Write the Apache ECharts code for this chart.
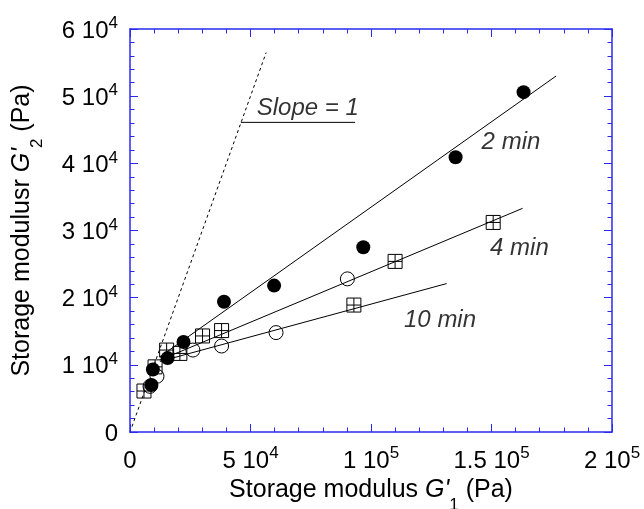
<!DOCTYPE html>
<html>
<head>
<meta charset="utf-8">
<script src="https://cdn.jsdelivr.net/npm/echarts@6/dist/echarts.min.js"></script>
<style>
  html, body { margin: 0; padding: 0; background: #fff; }
  #chart { width: 644px; height: 509px; }
</style>
</head>
<body>
<div id="chart"></div>
<script>
// axis ticks
const xTicks = [0, 50000, 100000, 150000, 200000];
const xTickLabels = ['0', '5 10^4', '1 10^5', '1.5 10^5', '2 10^5'];
const yTicks = [0, 10000, 20000, 30000, 40000, 50000, 60000];
const yTickLabels = ['0', '1 10^4', '2 10^4', '3 10^4', '4 10^4', '5 10^4', '6 10^4'];

// measured points (Pa)
const filledX = [8900, 9500, 15600, 22200, 39000, 59800, 96800, 135100, 163300];
const filledY = [7000, 9300, 11000, 13400, 19400, 21800, 27500, 40900, 50600];
const openX = [8300, 11200, 26100, 38000, 60600, 90200];
const openY = [6800, 8300, 12200, 12800, 14800, 22800];
const squareX = [5800, 10400, 15200, 20700, 30100, 38000, 92900, 110000, 150700];
const squareY = [6100, 9700, 12200, 11700, 14300, 15100, 18900, 25400, 31200];

// fitted lines
const slopeOne = [[800, 800], [56500, 56500]];
const slopeUnderline = [[46000, 46100], [93400, 46100]];
const line2min = [[12400, 11200], [176800, 53000]];
const line4min = [[12400, 10700], [162900, 33300]];
const line10min = [[12400, 10500], [131400, 22100]];

// annotations
const noteText = ['Slope = 1', '2 min', '4 min', '10 min'];
const noteX = [52600, 145900, 149400, 113700];
const noteY = [48200, 43100, 27400, 16700];

const FONT = '"Liberation Sans", Arial, Helvetica, sans-serif';
const BLUE = '#2a2af0';

const zip = (xs, ys) => xs.map((x, i) => [x, ys[i]]);
const richTick = (s) => {
    const p = s.split('^');
    return p.length > 1 ? '{n|' + p[0] + '}{sup|' + p[1] + '}' : '{n|' + s + '}';
};
const tickRich = {
    n: { fontSize: 24, lineHeight: 28, verticalAlign: 'bottom', fontFamily: FONT, color: '#000' },
    sup: { fontSize: 17, lineHeight: 17, verticalAlign: 'top', fontFamily: FONT, color: '#000' }
};
const titleRich = {
    n: { fontSize: 25, fontFamily: FONT, color: '#000', lineHeight: 30, verticalAlign: 'top' },
    i: { fontSize: 25, fontFamily: FONT, fontStyle: 'italic', color: '#000', lineHeight: 30, verticalAlign: 'top' },
    sub: { fontSize: 17, fontFamily: FONT, color: '#000', lineHeight: 36, verticalAlign: 'bottom' }
};

const axisCommon = {
    type: 'value',
    axisLine: { show: true, onZero: false, lineStyle: { color: BLUE, width: 1.5 } },
    axisTick: { show: true, inside: true, length: 8, lineStyle: { color: BLUE, width: 1 } },
    minorTick: { show: true, splitNumber: 5, length: 4.5, lineStyle: { color: BLUE, width: 1 } },
    splitLine: { show: false },
    minorSplitLine: { show: false }
};

const chartDom = document.getElementById('chart');
const myChart = echarts.init(chartDom, null, { renderer: 'canvas' });

const lineSeries = (data, dashed) => ({
    type: 'line',
    data: data,
    symbol: 'none',
    silent: true,
    z: 2,
    lineStyle: { color: '#000', width: 1, type: dashed ? [3, 3] : 'solid' }
});

const option = {
    animation: false,
    backgroundColor: '#fff',
    textStyle: { fontFamily: FONT },
    grid: { left: 130, right: 32, top: 29, bottom: 77, outerBoundsMode: 'none', containLabel: false },
    xAxis: [
        Object.assign({}, axisCommon, {
            position: 'bottom',
            min: 0, max: 200000, interval: 50000,
            axisLabel: {
                margin: 13,
                formatter: (v) => richTick(xTickLabels[xTicks.indexOf(v)] ?? ''),
                rich: tickRich
            },
            name: "{n|Storage modulus }{i|G'}{sub|1}{n| (Pa)}",
            nameLocation: 'middle',
            nameGap: 46,
            nameTextStyle: { rich: titleRich }
        }),
        Object.assign({}, axisCommon, {
            position: 'top',
            min: 0, max: 200000, interval: 50000,
            axisLabel: { show: false }
        })
    ],
    yAxis: [
        Object.assign({}, axisCommon, {
            position: 'left',
            min: 0, max: 60000, interval: 10000,
            axisLabel: {
                margin: 12,
                formatter: (v) => richTick(yTickLabels[yTicks.indexOf(v)] ?? ''),
                rich: tickRich
            },
            name: "{n|Storage modulusr }{i|G'}{sub|2}{n| (Pa)}",
            nameLocation: 'middle',
            nameGap: 84,
            nameTextStyle: { rich: titleRich }
        }),
        Object.assign({}, axisCommon, {
            position: 'right',
            min: 0, max: 60000, interval: 10000,
            axisLabel: { show: false }
        })
    ],
    series: [
        lineSeries(slopeOne, true),
        lineSeries(slopeUnderline, false),
        lineSeries(line2min, false),
        lineSeries(line4min, false),
        lineSeries(line10min, false),
        {
            name: 'filled',
            type: 'scatter',
            data: zip(filledX, filledY),
            symbol: 'circle',
            symbolSize: 14,
            z: 3,
            itemStyle: { color: '#000', opacity: 1 }
        },
        {
            name: 'square',
            type: 'scatter',
            data: zip(squareX, squareY),
            symbol: 'path://M0,0H14V14H0Z M7,0V14 M0,7H14',
            symbolSize: 14,
            z: 4,
            itemStyle: { color: 'rgba(0,0,0,0)', borderColor: '#000', borderWidth: 1, opacity: 1 }
        },
        {
            name: 'open',
            type: 'scatter',
            data: zip(openX, openY),
            symbol: 'circle',
            symbolSize: 14,
            z: 5,
            itemStyle: { color: 'rgba(0,0,0,0)', borderColor: '#000', borderWidth: 1, opacity: 1 }
        },
        {
            name: 'notes',
            type: 'scatter',
            silent: true,
            symbolSize: 0,
            z: 6,
            data: noteText.map((t, i) => ({ name: t, value: [noteX[i], noteY[i]] })),
            label: {
                show: true,
                position: 'right',
                distance: 0,
                formatter: '{b}',
                fontSize: 24,
                fontStyle: 'italic',
                fontFamily: FONT,
                color: '#000'
            }
        }
    ]
};

myChart.setOption(option);
window.addEventListener('resize', myChart.resize);
</script>
</body>
</html>
